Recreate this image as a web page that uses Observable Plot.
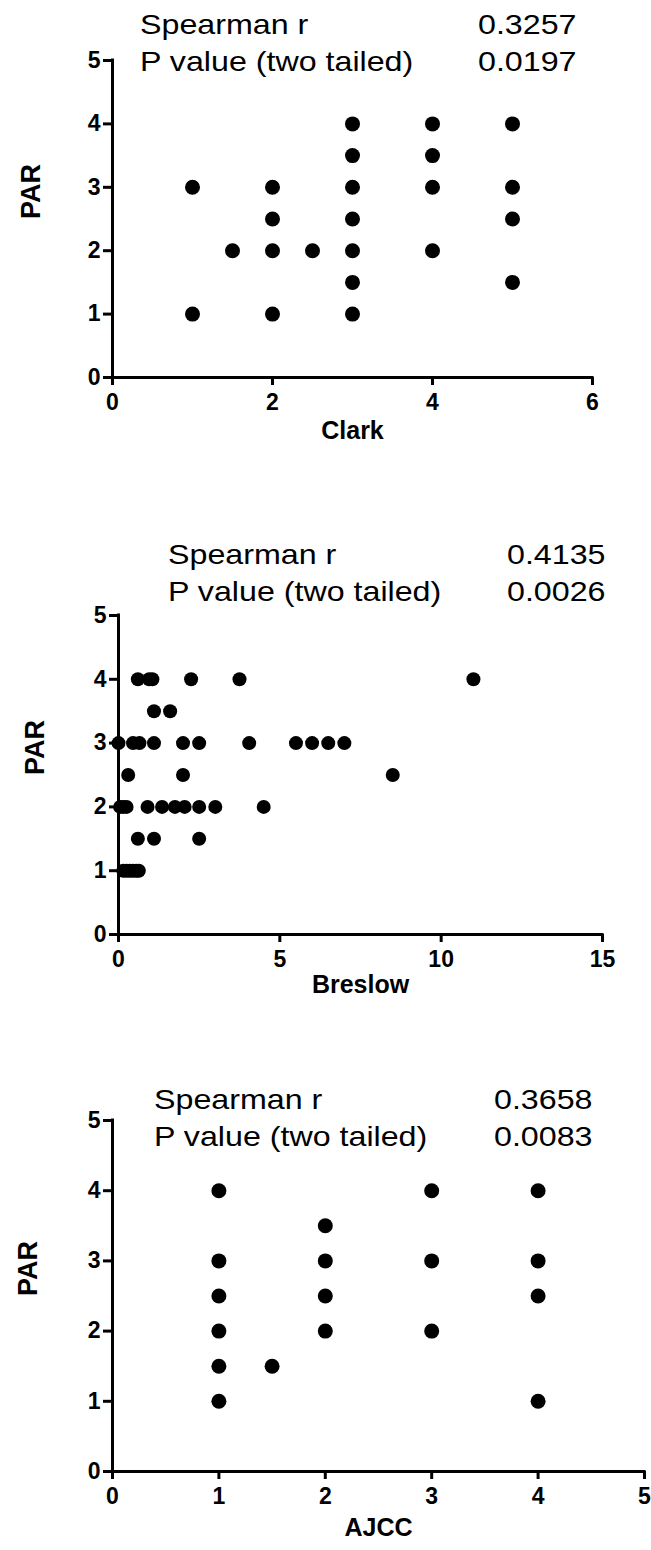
<!DOCTYPE html>
<html><head><meta charset="utf-8">
<script src="https://cdn.jsdelivr.net/npm/d3@7"></script>
<script src="https://cdn.jsdelivr.net/npm/@observablehq/plot@0.6"></script>
<style>
body{margin:0;background:#fff;}
#root{position:relative;width:651px;height:1550px;overflow:hidden;font-family:"Liberation Sans",Arial,sans-serif;background:#fff;}
.panel{position:absolute;left:0;}
.stat{position:absolute;font-size:28px;line-height:28px;white-space:nowrap;color:#000;transform:scaleX(1.15);transform-origin:left top;}
</style></head><body><div id="root"></div>
<script>
// Panel 1: Clark level vs PAR
const clarkX   = [1, 1, 1.5, 2, 2, 2, 2, 2.5, 3, 3, 3, 3, 3, 3, 3, 4, 4, 4, 4, 5, 5, 5, 5];
const clarkPAR = [3, 1, 2, 3, 2.5, 2, 1, 2, 4, 3.5, 3, 2.5, 2, 1.5, 1, 4, 3.5, 3, 2, 4, 3, 2.5, 1.5];
const clarkTicks = [0, 2, 4, 6];
const clarkStats = [["Spearman r", "0.3257"], ["P value (two tailed)", "0.0197"]];

// Panel 2: Breslow thickness vs PAR
const breslowX = [0.6, 0.95, 1.05, 2.25, 3.75, 11.0,
  1.1, 1.6,
  0, 0.45, 0.65, 1.1, 2.0, 2.5, 4.05, 5.5, 6.0, 6.5, 7.0,
  0.3, 2.0, 8.5,
  0.05, 0.15, 0.25, 0.9, 1.35, 1.75, 2.05, 2.5, 3.0, 4.5,
  0.6, 1.1, 2.5,
  0.15, 0.25, 0.35, 0.45, 0.55, 0.63];
const breslowPAR = [4, 4, 4, 4, 4, 4,
  3.5, 3.5,
  3, 3, 3, 3, 3, 3, 3, 3, 3, 3, 3,
  2.5, 2.5, 2.5,
  2, 2, 2, 2, 2, 2, 2, 2, 2, 2,
  1.5, 1.5, 1.5,
  1, 1, 1, 1, 1, 1];
const breslowTicks = [0, 5, 10, 15];
const breslowStats = [["Spearman r", "0.4135"], ["P value (two tailed)", "0.0026"]];

// Panel 3: AJCC stage vs PAR
const ajccX   = [1, 1, 1, 1, 1, 1, 1.5, 2, 2, 2, 2, 3, 3, 3, 4, 4, 4, 4];
const ajccPAR = [4, 3, 2.5, 2, 1.5, 1, 1.5, 3.5, 3, 2.5, 2, 4, 3, 2, 4, 3, 2.5, 1];
const ajccTicks = [0, 1, 2, 3, 4, 5];
const ajccStats = [["Spearman r", "0.3658"], ["P value (two tailed)", "0.0083"]];

const parTicks = [0, 1, 2, 3, 4, 5];

const root = document.getElementById("root");
const fmt = d3.format("d");

function panel(cfg) {
  const data = cfg.xs.map((x, i) => ({x, y: cfg.ys[i]}));
  const xMax = cfg.ticks[cfg.ticks.length - 1];
  const svg = Plot.plot({
    width: 651, height: cfg.height,
    marginTop: cfg.mt, marginBottom: cfg.mb, marginLeft: cfg.ml, marginRight: cfg.mr,
    style: {fontFamily: "'Liberation Sans', Arial, sans-serif", background: "transparent", overflow: "visible", color: "black"},
    x: {domain: [0, xMax], axis: null},
    y: {domain: [0, 5], axis: null},
    marks: [
      Plot.ruleX([0], {stroke: "black", strokeWidth: 3, strokeLinecap: "square"}),
      Plot.ruleY([0], {stroke: "black", strokeWidth: 3, strokeLinecap: "square"}),
      Plot.axisX(cfg.ticks, {tickSize: 8, tickPadding: 8, strokeWidth: 3, fontSize: 23, fontWeight: "bold", tickFormat: fmt, label: null}),
      Plot.axisY(parTicks, {tickSize: 9, tickPadding: 3, strokeWidth: 3, fontSize: 23, fontWeight: "bold", tickFormat: fmt, label: null}),
      Plot.dot(data, {x: "x", y: "y", r: cfg.r, fill: "black", stroke: "none"}),
      Plot.text([cfg.xLabel], {text: d => d, frameAnchor: "bottom", dy: cfg.xLabelDy, fontSize: 25, fontWeight: "bold"}),
      Plot.text(["PAR"], {text: d => d, frameAnchor: "left", rotate: -90, dx: cfg.parDx, fontSize: 27, fontWeight: "bold"})
    ]
  });
  const wrap = document.createElement("div");
  wrap.className = "panel";
  wrap.style.top = cfg.top + "px";
  wrap.appendChild(svg);
  root.appendChild(wrap);
  cfg.stats.forEach(([label, value], i) => {
    const base = cfg.baselines[i];
    const a = document.createElement("div");
    a.className = "stat"; a.textContent = label;
    a.style.left = cfg.statLeft + "px"; a.style.top = (base - 23.7) + "px";
    root.appendChild(a);
    const b = document.createElement("div");
    b.className = "stat"; b.textContent = value;
    b.style.left = cfg.valueLeft + "px"; b.style.top = (base - 23.7) + "px";
    root.appendChild(b);
  });
}

panel({top: 0, height: 470, mt: 60, mb: 93, ml: 112, mr: 59, ticks: clarkTicks,
  xs: clarkX, ys: clarkPAR, r: 7.5, xLabel: "Clark", xLabelDy: 61, parDx: -81,
  stats: clarkStats, baselines: [35, 72], statLeft: 140, valueLeft: 478});

panel({top: 520, height: 490, mt: 95, mb: 76, ml: 118, mr: 49, ticks: breslowTicks,
  xs: breslowX, ys: breslowPAR, r: 7, xLabel: "Breslow", xLabelDy: 58, parDx: -83,
  stats: breslowStats, baselines: [565, 602], statLeft: 168, valueLeft: 507});

panel({top: 1040, height: 510, mt: 80, mb: 79, ml: 112, mr: 7, ticks: ajccTicks,
  xs: ajccX, ys: ajccPAR, r: 7.5, xLabel: "AJCC", xLabelDy: 64, parDx: -84,
  stats: ajccStats, baselines: [1110, 1147], statLeft: 154, valueLeft: 494});
</script>
</body></html>
